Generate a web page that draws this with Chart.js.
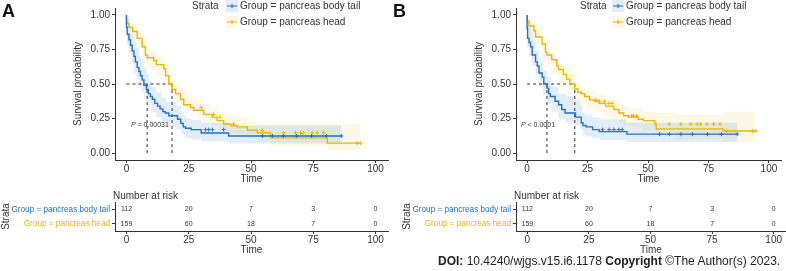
<!DOCTYPE html>
<html lang="en">
<head>
<meta charset="UTF-8">
<title>Survival by tumour location</title>
<script src="https://cdn.jsdelivr.net/npm/chart.js"></script>
<style>
  body { margin: 0; background: #fff; font-family: "Liberation Sans", Arial, sans-serif; }
  #page { position: relative; width: 786px; height: 271px; overflow: hidden; }
  canvas { position: absolute; }
  .tag { position: absolute; font-weight: bold; font-size: 18px; color: #111; }
  #doi { position: absolute; left: 438px; top: 254px; font-size: 12px; color: #222; white-space: nowrap; }
</style>
</head>
<body>
<div id="page">
  <canvas id="kmA" width="393" height="188" style="left:0;top:0"></canvas>
  <canvas id="riskA" width="393" height="70" style="left:0;top:188px"></canvas>
  <canvas id="kmB" width="385" height="188" style="left:401px;top:0"></canvas>
  <canvas id="riskB" width="385" height="70" style="left:401px;top:188px"></canvas>
  <div class="tag" style="left:2px;top:1px">A</div>
  <div class="tag" style="left:393px;top:1px">B</div>
  <div id="doi"><b>DOI:</b> 10.4240/wjgs.v15.i6.1178 <b>Copyright</b> ©The Author(s) 2023.</div>
</div>

<script>
// ---- data ----
const strata = ['Group = pancreas body tail', 'Group = pancreas head'];
const timeTicks = [0, 25, 50, 75, 100];
const probTicks = [0, 0.25, 0.5, 0.75, 1];
const riskTimes = [0, 25, 50, 75, 100];

// panel A
const bodyA_t = [0, 0.3, 1.0, 1.6, 2.3, 3.0, 3.6, 4.3, 5.0, 5.6, 6.3, 7.0, 8.0, 8.8, 9.6, 10.4, 11.4, 12.5, 13.5, 14.6, 15.6, 17.0, 20.5, 21.8, 22.8, 23.7, 26.0, 30.0, 41.0, 45.0, 86.3];
const bodyA_s = [1.00, 0.91, 0.86, 0.82, 0.78, 0.74, 0.70, 0.66, 0.62, 0.59, 0.56, 0.53, 0.49, 0.46, 0.43, 0.41, 0.39, 0.36, 0.34, 0.32, 0.30, 0.29, 0.27, 0.245, 0.215, 0.19, 0.18, 0.17, 0.145, 0.124, 0.124];
const bodyA_cens = [31.7, 33, 34.5, 39, 54.6, 58.6, 63, 68.3, 74.3, 80.3, 86.3];
const headA_t = [0, 1.0, 2.5, 4.3, 6.3, 7.6, 8.3, 10.9, 12.0, 15.0, 15.7, 17.0, 18.3, 19.7, 21.7, 23.0, 25.7, 27.0, 31.0, 34.4, 36.4, 39.0, 41.8, 44.4, 48.5, 52.5, 57.8, 80.6, 82.6, 94.0];
const headA_s = [1.00, 0.94, 0.91, 0.88, 0.83, 0.77, 0.71, 0.69, 0.67, 0.64, 0.61, 0.56, 0.50, 0.46, 0.43, 0.39, 0.35, 0.33, 0.31, 0.28, 0.26, 0.235, 0.21, 0.20, 0.19, 0.165, 0.147, 0.11, 0.072, 0.072];
const headA_cens = [30, 35, 37.5, 43, 54.5, 63.2, 67.9, 69.9, 71, 74.6, 76.6, 79.2, 92.6, 94];
const bodyA_bandT = [0, 1, 2, 3, 4, 5, 6, 7, 8, 9, 10, 12, 14, 16, 20, 22, 23, 24, 26, 30, 41, 45, 86.3];
const bodyA_lo = [0.85, 0.78, 0.72, 0.64, 0.58, 0.53, 0.48, 0.44, 0.40, 0.37, 0.34, 0.30, 0.26, 0.22, 0.19, 0.17, 0.14, 0.12, 0.11, 0.10, 0.085, 0.07, 0.07];
const bodyA_hi = [1.0, 0.97, 0.92, 0.86, 0.80, 0.76, 0.70, 0.66, 0.62, 0.57, 0.53, 0.48, 0.44, 0.40, 0.37, 0.34, 0.30, 0.27, 0.25, 0.24, 0.22, 0.20, 0.20];
const headA_bandT = [0, 2, 4, 6, 8, 10, 12, 15, 17, 18.3, 20, 22, 24, 26, 29, 31, 34, 37, 39, 42, 45, 49, 53, 58, 80.6, 82.6, 94];
const headA_lo = [0.95, 0.90, 0.84, 0.77, 0.70, 0.62, 0.60, 0.56, 0.49, 0.43, 0.40, 0.36, 0.33, 0.30, 0.27, 0.25, 0.22, 0.20, 0.18, 0.16, 0.145, 0.135, 0.11, 0.09, 0.05, 0.02, 0.02];
const headA_hi = [1.0, 0.98, 0.94, 0.89, 0.83, 0.76, 0.74, 0.71, 0.64, 0.58, 0.53, 0.50, 0.47, 0.43, 0.40, 0.38, 0.35, 0.33, 0.30, 0.28, 0.27, 0.26, 0.23, 0.21, 0.21, 0.21, 0.21];
const medianA = [8.3, 18.3];
const riskBodyA = [112, 20, 7, 3, 0];
const riskHeadA = [159, 60, 18, 7, 0];

// panel B
const bodyB_t = [0, 0.2, 0.8, 1.4, 2.1, 3.5, 4.2, 4.9, 6.2, 6.9, 8.2, 8.9, 9.6, 11.6, 13.0, 14.3, 15.7, 20.0, 22.4, 23.1, 24.4, 27.1, 29.8, 41.3, 45.3, 86.9];
const bodyB_s = [1.00, 0.90, 0.83, 0.80, 0.77, 0.71, 0.66, 0.63, 0.58, 0.55, 0.50, 0.47, 0.43, 0.41, 0.375, 0.35, 0.315, 0.29, 0.26, 0.22, 0.20, 0.19, 0.17, 0.155, 0.137, 0.137];
const bodyB_cens = [31.2, 33.9, 35.9, 37.9, 39.3, 54.8, 58.8, 63.6, 68.3, 74.6, 80.4, 86.9];
const headB_t = [0, 0.8, 2.8, 3.5, 6.2, 7.6, 8.2, 10.2, 12.3, 13.0, 15.0, 16.3, 17.7, 19.7, 21.0, 22.4, 23.8, 25.8, 27.8, 29.8, 32.5, 35.9, 37.9, 39.9, 41.9, 46.0, 48.1, 52.8, 53.4, 81.1, 82.0, 94.6];
const headB_s = [1.00, 0.955, 0.92, 0.885, 0.84, 0.79, 0.73, 0.71, 0.675, 0.63, 0.605, 0.57, 0.535, 0.50, 0.465, 0.44, 0.43, 0.41, 0.385, 0.375, 0.36, 0.34, 0.315, 0.29, 0.27, 0.26, 0.245, 0.235, 0.21, 0.175, 0.16, 0.16];
const headB_cens = [28.5, 29.9, 31.9, 33.9, 35.2, 43.3, 44, 45.3, 58.8, 63.6, 67.6, 70.3, 71.7, 74.4, 77.1, 79.8, 82.5, 93.2, 94.6];
const bodyB_bandT = [0, 1, 2, 3.5, 5, 6.5, 8.2, 10, 13, 16, 20, 22, 23, 24.4, 27, 30, 41, 45.3, 86.9];
const bodyB_lo = [0.84, 0.77, 0.70, 0.63, 0.56, 0.48, 0.42, 0.36, 0.30, 0.25, 0.22, 0.20, 0.17, 0.13, 0.12, 0.11, 0.095, 0.08, 0.08];
const bodyB_hi = [1.0, 0.96, 0.90, 0.82, 0.74, 0.67, 0.60, 0.55, 0.48, 0.43, 0.41, 0.38, 0.34, 0.29, 0.28, 0.26, 0.245, 0.22, 0.22];
const headB_bandT = [0, 2, 4, 6, 8, 10, 13, 16, 18, 20, 22, 24, 28, 32, 36, 38, 40, 42, 46, 48, 53, 61.5, 81.1, 82, 94.6];
const headB_lo = [0.95, 0.90, 0.83, 0.78, 0.67, 0.64, 0.56, 0.50, 0.46, 0.43, 0.38, 0.35, 0.32, 0.30, 0.27, 0.25, 0.22, 0.20, 0.19, 0.18, 0.16, 0.145, 0.10, 0.08, 0.08];
const headB_hi = [1.0, 0.98, 0.94, 0.90, 0.80, 0.77, 0.70, 0.64, 0.61, 0.58, 0.52, 0.49, 0.45, 0.43, 0.40, 0.38, 0.36, 0.34, 0.33, 0.32, 0.30, 0.29, 0.28, 0.30, 0.30];
const medianB = [8.2, 19.7];
const riskBodyB = [112, 20, 7, 3, 0];
const riskHeadB = [159, 60, 18, 7, 0];

// ---- styling ----
const BLUE = '#2272c3', YEL = '#e7b800';
const BLUE_BAND = 'rgba(34,114,195,0.13)', YEL_BAND = 'rgba(231,184,0,0.1)';
const FONT = '"Liberation Sans", Arial, sans-serif';
const INK = '#333';
Chart.defaults.font.family = FONT;
Chart.defaults.font.size = 10;
Chart.defaults.color = INK;

const pts = (t, s) => t.map((v, i) => ({ x: v, y: s[i] }));
// value of a step curve at time x (used to sit censor marks on the curve)
const stepAt = (t, s, x) => { let v = s[0]; t.forEach((ti, i) => { if (ti <= x) v = s[i]; }); return v; };

function axisX(height, pad) {
  return {
    type: 'linear', min: -4.6, max: 105,
    afterBuildTicks: s => { s.ticks = timeTicks.map(v => ({ value: v })); },
    afterFit: s => { s.height = height; },
    ticks: { padding: 0, color: INK, font: { size: 10 } },
    grid: { drawOnChartArea: false, drawTicks: true, tickLength: 3, color: INK },
    border: { display: true, color: INK, width: 1 },
    title: { display: true, text: 'Time', color: INK, font: { size: 10 }, padding: { top: 0, bottom: pad } }
  };
}

function kmChart(id, d) {
  const line = (t, s, col) => ({ data: pts(t, s), stepped: 'after', borderColor: col, borderWidth: 1.4, pointRadius: 0, fill: false });
  const band = (t, v, fill) => ({ data: pts(t, v), stepped: 'after', borderWidth: 0, pointRadius: 0, fill: fill ? '-1' : false, backgroundColor: fill });
  const cens = (t, s, c, col) => ({ data: c.map(x => ({ x: x, y: stepAt(t, s, x) })), showLine: false, pointStyle: 'cross', pointRadius: 2, borderColor: col, borderWidth: 1 });
  const dash = (p) => ({ data: p, borderColor: INK, borderWidth: 1, borderDash: [3, 3], pointRadius: 0, fill: false });

  return new Chart(document.getElementById(id), {
    type: 'line',
    data: {
      datasets: [
        cens(d.bodyT, d.bodyS, d.bodyC, BLUE),
        cens(d.headT, d.headS, d.headC, YEL),
        line(d.bodyT, d.bodyS, BLUE),
        line(d.headT, d.headS, YEL),
        dash([{ x: 0, y: 0.5 }, { x: d.med[1], y: 0.5 }]),
        dash([{ x: d.med[0], y: 0.5 }, { x: d.med[0], y: 0 }]),
        dash([{ x: d.med[1], y: 0.5 }, { x: d.med[1], y: 0 }]),
        band(d.bodyBT, d.bodyHi, null),
        band(d.bodyBT, d.bodyLo, BLUE_BAND),
        band(d.headBT, d.headHi, null),
        band(d.headBT, d.headLo, YEL_BAND)
      ]
    },
    options: {
      responsive: false, animation: false,
      layout: { padding: { left: 70, right: d.padR, top: 2, bottom: 0 } },
      plugins: { legend: { display: false }, tooltip: { enabled: false }, filler: { drawTime: 'beforeDatasetsDraw' } },
      elements: { line: { tension: 0 } },
      scales: {
        x: axisX(28, 3),
        y: {
          type: 'linear', min: -0.05, max: 1.05,
          afterBuildTicks: s => { s.ticks = probTicks.map(v => ({ value: v })); },
          afterFit: s => { s.width = 45; },
          ticks: { padding: 2, color: INK, callback: v => v.toFixed(2) },
          grid: { drawOnChartArea: false, drawTicks: true, tickLength: 3, color: INK },
          border: { display: true, color: INK, width: 1 },
          title: { display: true, text: 'Survival probability', color: INK, padding: { top: 2, bottom: 0 } }
        }
      }
    },
    plugins: [{
      id: 'kmText',
      afterDraw(chart) {
        const c = chart.ctx, xs = chart.scales.x, ys = chart.scales.y, x0 = d.legX;
        c.save();
        c.textBaseline = 'middle'; c.textAlign = 'left';
        c.font = '10px ' + FONT; c.fillStyle = INK;
        c.fillText('Strata', x0, 6);
        [[BLUE, BLUE_BAND, 6], [YEL, YEL_BAND, 22]].forEach(([col, bg, y], i) => {
          const sx = x0 + d.keyDx;
          c.fillStyle = bg; c.fillRect(sx - 1, y - 6, 12, 12);
          c.strokeStyle = col; c.lineWidth = 1.2;
          c.beginPath(); c.moveTo(sx, y); c.lineTo(sx + 10, y);
          c.moveTo(sx + 5, y - 2); c.lineTo(sx + 5, y + 2); c.stroke();
          c.fillStyle = INK; c.font = '10px ' + FONT;
          c.fillText(strata[i], sx + 13, y);
        });
        // p value, P in italics
        c.font = 'italic 7px ' + FONT;
        const wP = c.measureText('P').width;
        c.font = '7px ' + FONT;
        const wR = c.measureText(d.pRest).width;
        let px = xs.getPixelForValue(d.pAt[0]) - (wP + wR) / 2;
        const py = ys.getPixelForValue(d.pAt[1]);
        c.font = 'italic 7px ' + FONT; c.fillText('P', px, py);
        c.font = '7px ' + FONT; c.fillText(d.pRest, px + wP, py);
        c.restore();
      }
    }]
  });
}

function riskChart(id, body, head, padR) {
  return new Chart(document.getElementById(id), {
    type: 'line',
    data: { datasets: [] },
    options: {
      responsive: false, animation: false,
      layout: { padding: { left: 0, right: padR, top: 14, bottom: 0 } },
      plugins: { legend: { display: false }, tooltip: { enabled: false } },
      scales: {
        x: axisX(27, 2),
        y: {
          type: 'category', labels: strata, offset: true,
          afterFit: s => { s.width = 115; },
          ticks: { padding: 2, font: { size: 8.2 }, color: c => c.index === 0 ? BLUE : YEL },
          grid: { drawOnChartArea: false, drawTicks: true, tickLength: 3, color: INK, offset: false },
          border: { display: true, color: INK, width: 1 },
          title: { display: true, text: 'Strata', color: INK, padding: { top: 0, bottom: 0 } }
        }
      }
    },
    plugins: [{
      id: 'riskText',
      afterDraw(chart) {
        const c = chart.ctx, xs = chart.scales.x, ys = chart.scales.y;
        c.save();
        c.fillStyle = INK; c.textBaseline = 'middle';
        c.font = '10px ' + FONT; c.textAlign = 'left';
        c.fillText('Number at risk', chart.chartArea.left - 2, 8);
        c.font = '7px ' + FONT; c.textAlign = 'center';
        [body, head].forEach((row, r) => {
          row.forEach((n, j) => c.fillText(String(n), xs.getPixelForValue(riskTimes[j]), ys.getPixelForValue(r)));
        });
        c.restore();
      }
    }]
  });
}

kmChart('kmA', {
  bodyT: bodyA_t, bodyS: bodyA_s, bodyC: bodyA_cens, headT: headA_t, headS: headA_s, headC: headA_cens,
  bodyBT: bodyA_bandT, bodyLo: bodyA_lo, bodyHi: bodyA_hi, headBT: headA_bandT, headLo: headA_lo, headHi: headA_hi,
  med: medianA, padR: 5, legX: 192, keyDx: 35, pRest: ' = 0.00031', pAt: [9.4, 0.20]
});
kmChart('kmB', {
  bodyT: bodyB_t, bodyS: bodyB_s, bodyC: bodyB_cens, headT: headB_t, headS: headB_s, headC: headB_cens,
  bodyBT: bodyB_bandT, bodyLo: bodyB_lo, bodyHi: bodyB_hi, headBT: headB_bandT, headLo: headB_lo, headHi: headB_hi,
  med: medianB, padR: 0, legX: 179, keyDx: 33, pRest: ' < 0.0001', pAt: [4.5, 0.20]
});
riskChart('riskA', riskBodyA, riskHeadA, 5);
riskChart('riskB', riskBodyB, riskHeadB, 0);
</script>
</body>
</html>
